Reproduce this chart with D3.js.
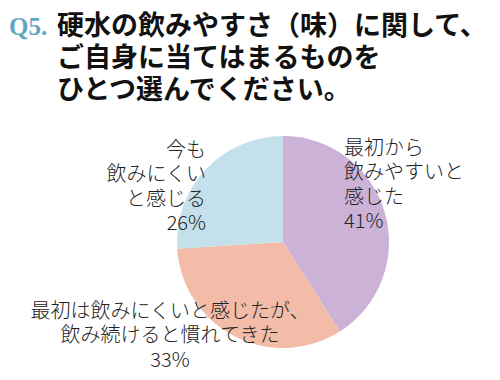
<!DOCTYPE html>
<html><head><meta charset="utf-8">
<script src="https://cdn.jsdelivr.net/npm/d3@7"></script>
<style>body{margin:0;background:#fff}</style>
</head><body>
<svg id="c" width="500" height="380"></svg>
<script>
const categories = ["最初から飲みやすいと感じた", "最初は飲みにくいと感じたが、飲み続けると慣れてきた", "今も飲みにくいと感じる"];
const values = [41, 33, 26];
const colors = ["#cdb2d8", "#f2bca8", "#c4e0ea"];
const labelLines = [["最初から", "飲みやすいと", "感じた", "41%"], ["最初は飲みにくいと感じたが、", "飲み続けると慣れてきた", "33%"], ["今も", "飲みにくい", "と感じる", "26%"]];
const titleLines = ["硬水の飲みやすさ（味）に関して、", "ご自身に当てはまるものを", "ひとつ選んでください。"];

const svg = d3.select("#c");
const font = "'Noto Sans CJK JP', sans-serif";

svg.append("text").attr("x", 9).attr("y", 35).text("Q5.")
  .attr("font-family", "'Liberation Serif', serif").attr("font-weight", "bold")
  .attr("font-size", 25).attr("fill", "#5ea7c0");
svg.append("g").selectAll("text").data(titleLines).join("text")
  .attr("x", 57).attr("y", (d, i) => 35 + i * 32).text(d => d)
  .attr("font-family", font).attr("font-weight", "bold").attr("font-size", 27).attr("fill", "#111");

const cx = 283, cy = 242, r = 106;
const pie = d3.pie().sort(null).value(d => d)(values);
const arc = d3.arc().innerRadius(0).outerRadius(r);
svg.append("g").attr("transform", `translate(${cx},${cy})`)
  .selectAll("path").data(pie).join("path")
  .attr("d", arc).attr("fill", (d, i) => colors[i]);

const labelPos = [
  {x: 344, y: 155, anchor: "start"},
  {x: 170, y: 318, anchor: "middle"},
  {x: 206, y: 157, anchor: "end"}
];
labelLines.forEach((lines, i) => {
  const p = labelPos[i];
  svg.append("g").selectAll("text").data(lines).join("text")
    .attr("x", p.x).attr("y", (d, j) => p.y + j * 24.3).text(d => d)
    .attr("text-anchor", p.anchor)
    .attr("font-family", font).attr("font-weight", 300).attr("font-size", 20).attr("fill", "#222");
});
</script>
</body></html>
